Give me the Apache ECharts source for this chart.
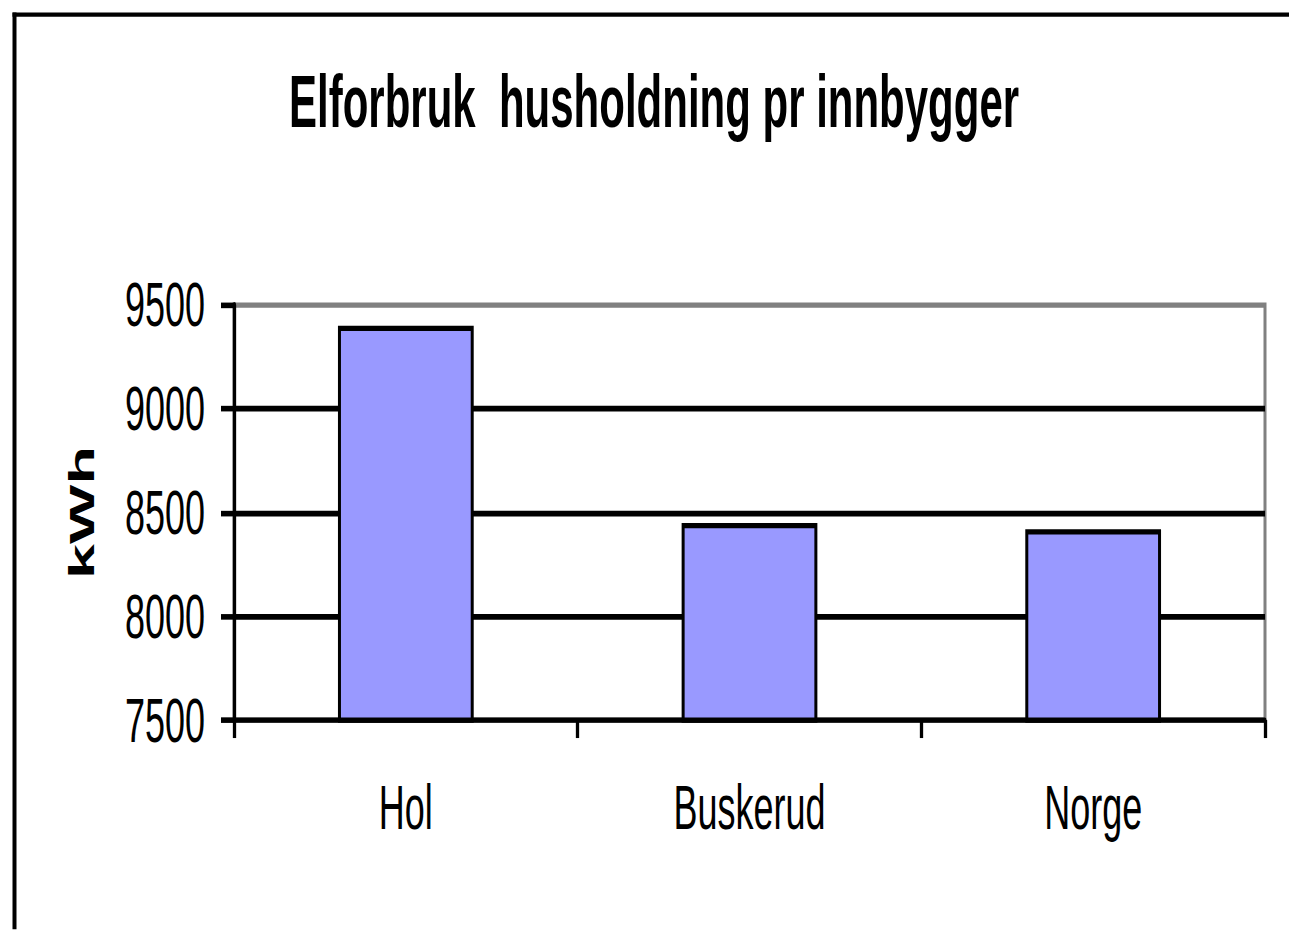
<!DOCTYPE html>
<html>
<head>
<meta charset="utf-8">
<title>Elforbruk husholdning pr innbygger</title>
<script src="https://cdn.jsdelivr.net/npm/echarts@6/dist/echarts.min.js"></script>
<style>
    html, body { margin: 0; padding: 0; background: #fff; width: 1289px; height: 930px; overflow: hidden; }
    #wrap { position: relative; width: 1289px; height: 930px; overflow: hidden; }
    /* the original chart is stretched vertically, so draw it flat and stretch it */
    #chart { position: absolute; left: 0; top: 0; width: 1289px; height: 531.43px; transform: scaleY(1.75); transform-origin: 0 0; }
</style>
</head>
<body>
<div id="wrap"><div id="chart"></div></div>
<script>
var categories = ['Hol', 'Buskerud', 'Norge'];
var kwhValues = [9400, 8450, 8420];
var yTicks = [7500, 8000, 8500, 9000, 9500];

var sy = 1.75;
var font = 'Liberation Sans, Arial, sans-serif';

var chart = echarts.init(document.getElementById('chart'), null, { renderer: 'svg' });

var option = {
    backgroundColor: '#fff',
    animation: false,
    title: {
        text: 'Elforbruk  husholdning pr innbygger',
        left: 284,
        top: 32,
        textStyle: {
            color: '#000',
            fontFamily: font,
            fontWeight: 'bold',
            fontSize: 42
        }
    },
    //外框
    graphic: [
        { type: 'rect', shape: { x: 12.5, y: 12.5 / sy, width: 4, height: 600 }, style: { fill: '#000' } },
        { type: 'rect', shape: { x: 12.5, y: 12.5 / sy, width: 1300, height: 4.2 / sy }, style: { fill: '#000' } }
    ],
    grid: {
        left: 234,
        right: 24,
        top: 305 / sy,
        bottom: 531.43 - 720.8 / sy,
        show: true,
        borderColor: '#808080',
        borderWidth: 3,
        backgroundColor: 'transparent'
    },
    xAxis: {
        type: 'category',
        data: categories,
        boundaryGap: true,
        axisLine: { lineStyle: { color: '#000', width: 3 } },
        axisTick: { show: true, length: 18 / sy, lineStyle: { color: '#000', width: 3.3 } },
        axisLabel: {
            color: '#000',
            fontFamily: font,
            fontSize: 36,
            margin: 32
        },
        splitLine: { show: false }
    },
    yAxis: {
        type: 'value',
        min: yTicks[0],
        max: yTicks[yTicks.length - 1],
        interval: yTicks[1] - yTicks[0],
        name: 'kWh',
        nameLocation: 'middle',
        nameGap: 134,
        nameRotate: 90,
        nameTextStyle: {
            color: '#000',
            fontFamily: font,
            fontWeight: 'bold',
            fontSize: 36
        },
        axisLine: { show: true, lineStyle: { color: '#000', width: 3.3 } },
        axisTick: { show: true, length: 13, lineStyle: { color: '#000', width: 3.2 } },
        axisLabel: {
            color: '#000',
            fontFamily: font,
            fontSize: 36,
            margin: 29,
            padding: [0, 0, 7, 0],
            formatter: function (v) { return String(v); }
        },
        splitLine: {
            show: true,
            showMinLine: false,
            showMaxLine: false,
            lineStyle: { color: '#000', width: 3.3 }
        }
    },
    series: [
        {
            name: 'kWh',
            type: 'bar',
            data: kwhValues,
            barWidth: '39.5%',
            itemStyle: {
                color: '#9999ff',
                borderColor: '#000',
                borderWidth: 3
            }
        }
    ]
};

chart.setOption(option);
</script>
</body>
</html>
